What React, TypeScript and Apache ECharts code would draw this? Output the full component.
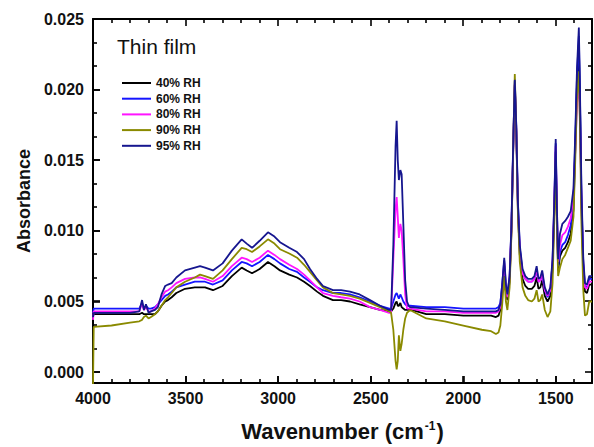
import React, { useEffect, useRef } from "react";
import * as echarts from "echarts";

// Wavenumbers (cm-1), shared by every series
const WN = [
  4000, 3996, 3900, 3800, 3750, 3735, 3725, 3714, 3700, 3687, 3665, 3650, 3630, 3610, 3595, 3575, 3550, 3503, 3450,
  3422, 3395, 3352, 3300, 3250, 3197, 3170, 3141, 3100, 3055, 3020, 2990, 2940, 2898, 2860, 2828, 2790, 2758, 2704, 2660, 2612,
  2560, 2504, 2450, 2400,
  2390, 2378, 2366, 2360, 2354, 2348, 2340, 2333, 2324, 2314, 2304, 2295, 2288,
  2200, 2100, 2000, 1900, 1850, 1824, 1810,
  1800, 1790, 1779, 1770, 1762, 1750, 1740, 1730, 1722, 1714, 1705, 1695, 1680, 1665, 1650, 1630, 1616, 1604, 1594, 1584, 1574,
  1560, 1545, 1530, 1518, 1508, 1501, 1495, 1488, 1478, 1465, 1450, 1435, 1420, 1405, 1395, 1386, 1376, 1370, 1362, 1352, 1343,
  1332, 1320, 1305,
];

const RH40 = [
  0.0040, 0.0041, 0.0041, 0.0041, 0.0041, 0.0042, 0.0041, 0.0041, 0.0041, 0.0041, 0.0041, 0.0043, 0.0047, 0.0050, 0.0051, 0.0053, 0.0056, 0.0059, 0.0060,
  0.0060, 0.0060, 0.0058, 0.0061, 0.0068, 0.0074, 0.0072, 0.0070, 0.0073, 0.0078, 0.0075, 0.0072, 0.0069, 0.0067, 0.0064, 0.0061, 0.0057, 0.0054, 0.0051, 0.0051, 0.0050,
  0.0048, 0.0046, 0.0044, 0.0043,
  0.0043, 0.0045, 0.0049, 0.0050, 0.0047, 0.0047, 0.0049, 0.0046, 0.0045, 0.0044, 0.0044, 0.0044, 0.00445,
  0.0041, 0.0041, 0.0040, 0.0040, 0.0040, 0.0039, 0.0040,
  0.0044, 0.0057, 0.0075, 0.0057, 0.0051, 0.0064, 0.0100, 0.0160, 0.0203, 0.0170, 0.0114, 0.0083, 0.0066, 0.0061, 0.0059, 0.0059, 0.0061, 0.0067, 0.0059, 0.0060, 0.0065,
  0.0054, 0.0050, 0.0054, 0.0073, 0.0118, 0.0156, 0.0112, 0.0072, 0.0082, 0.0086, 0.0088, 0.0092, 0.0098, 0.0115, 0.0160, 0.0205, 0.0232, 0.0190, 0.0118, 0.0072, 0.0057,
  0.0056, 0.0062, 0.0062,
];

const RH60 = [
  0.0042, 0.0045, 0.0045, 0.0045, 0.0045, 0.0049, 0.0045, 0.0047, 0.0045, 0.0045, 0.0046, 0.0048, 0.0051, 0.0054, 0.0055, 0.0057, 0.0060, 0.0062, 0.0064,
  0.0064, 0.0064, 0.0062, 0.0065, 0.0072, 0.0078, 0.0077, 0.0075, 0.0078, 0.0083, 0.0080, 0.0077, 0.0073, 0.0071, 0.0067, 0.0064, 0.0060, 0.0058, 0.0056, 0.0056, 0.0055,
  0.0053, 0.0050, 0.0047, 0.0045,
  0.0045, 0.0050, 0.0055, 0.0056, 0.0054, 0.0052, 0.0055, 0.0053, 0.0050, 0.0048, 0.0047, 0.0047, 0.0047,
  0.0046, 0.0046, 0.0045, 0.0045, 0.0045, 0.0045, 0.0046,
  0.0049, 0.0062, 0.0079, 0.0061, 0.0055, 0.0067, 0.0104, 0.0164, 0.0206, 0.0174, 0.0119, 0.0088, 0.0071, 0.0066, 0.0064, 0.0064, 0.0066, 0.0072, 0.0064, 0.0065, 0.0069,
  0.0058, 0.0053, 0.0058, 0.0078, 0.0123, 0.0162, 0.0118, 0.0075, 0.0085, 0.0090, 0.0092, 0.0097, 0.0104, 0.0122, 0.0165, 0.0210, 0.0238, 0.0195, 0.0125, 0.0077, 0.0061,
  0.0060, 0.0066, 0.0066,
];

const RH80 = [
  0.0037, 0.0043, 0.0043, 0.0043, 0.0043, 0.0049, 0.0044, 0.0046, 0.0043, 0.0043, 0.0045, 0.0048, 0.0053, 0.0057, 0.0058, 0.0060, 0.0063, 0.0066, 0.0067,
  0.0067, 0.0066, 0.0064, 0.0068, 0.0075, 0.0081, 0.0080, 0.0078, 0.0081, 0.0086, 0.0083, 0.0080, 0.0076, 0.0073, 0.0069, 0.0065, 0.0060, 0.0056, 0.0054, 0.0053, 0.0052,
  0.0050, 0.0046, 0.0044, 0.0042,
  0.0042, 0.0080, 0.0115, 0.0124, 0.0110, 0.0095, 0.0105, 0.0100, 0.0080, 0.0055, 0.0045, 0.0045, 0.0045,
  0.0043, 0.0043, 0.0042, 0.0042, 0.0042, 0.0042, 0.0043,
  0.0046, 0.0059, 0.0077, 0.0059, 0.0053, 0.0066, 0.0102, 0.0162, 0.0204, 0.0172, 0.0116, 0.0086, 0.0070, 0.0066, 0.0064, 0.0064, 0.0066, 0.0073, 0.0064, 0.0065, 0.0070,
  0.0058, 0.0054, 0.0058, 0.0077, 0.0121, 0.0160, 0.0116, 0.0078, 0.0090, 0.0097, 0.0099, 0.0103, 0.0109, 0.0125, 0.0158, 0.0190, 0.0205, 0.0180, 0.0120, 0.0076, 0.0060,
  0.0059, 0.0064, 0.0064,
];

const RH90 = [
  -0.001, 0.0032, 0.0033, 0.0035, 0.0036, 0.0037, 0.0039, 0.0040, 0.0038, 0.0039, 0.0041, 0.0043, 0.0047, 0.0051, 0.0053, 0.0056, 0.0060, 0.0064, 0.0067,
  0.0069, 0.0068, 0.0066, 0.0072, 0.0080, 0.0088, 0.0087, 0.0085, 0.0089, 0.0094, 0.0091, 0.0087, 0.0084, 0.0081, 0.0076, 0.0071, 0.0065, 0.0060, 0.0056, 0.0055, 0.0054,
  0.0052, 0.0049, 0.0046, 0.0043,
  0.0042, 0.0030, 0.0008, 0.0002, 0.0008, 0.0026, 0.0015, 0.0020, 0.0030, 0.0038, 0.0042, 0.0043, 0.0044,
  0.0038, 0.0036, 0.0033, 0.0030, 0.0029, 0.0027, 0.0028,
  0.0033, 0.0048, 0.0068, 0.0050, 0.0044, 0.0060, 0.0098, 0.0163, 0.0211, 0.0172, 0.0112, 0.0078, 0.0060, 0.0054, 0.0051, 0.0050, 0.0052, 0.0058, 0.0050, 0.0051, 0.0055,
  0.0044, 0.0039, 0.0043, 0.0063, 0.0112, 0.0150, 0.0105, 0.0068, 0.0074, 0.0080, 0.0083, 0.0088, 0.0093, 0.0110, 0.0152, 0.0195, 0.0213, 0.0175, 0.0105, 0.0058, 0.0040,
  0.0041, 0.0050, 0.0050,
];

const RH95 = [
  0.0039, 0.0042, 0.0042, 0.0042, 0.0043, 0.0051, 0.0044, 0.0048, 0.0042, 0.0043, 0.0044, 0.0046, 0.0055, 0.0061, 0.0062, 0.0063, 0.0067, 0.0072, 0.0074,
  0.0075, 0.0074, 0.0072, 0.0077, 0.0086, 0.0094, 0.0091, 0.0088, 0.0093, 0.0099, 0.0096, 0.0092, 0.0088, 0.0085, 0.0080, 0.0073, 0.0066, 0.0061, 0.0058, 0.0058, 0.0057,
  0.0055, 0.0051, 0.0047, 0.0044,
  0.0044, 0.0090, 0.0160, 0.0178, 0.0150, 0.0136, 0.0143, 0.0140, 0.0105, 0.0065, 0.0050, 0.0047, 0.0046,
  0.0045, 0.0044, 0.0043, 0.0043, 0.0043, 0.0043, 0.0044,
  0.0048, 0.0062, 0.0081, 0.0062, 0.0055, 0.0068, 0.0105, 0.0165, 0.0207, 0.0175, 0.0120, 0.0090, 0.0073, 0.0068, 0.0066, 0.0066, 0.0068, 0.0075, 0.0066, 0.0067, 0.0072,
  0.0060, 0.0055, 0.0060, 0.0080, 0.0125, 0.0165, 0.0120, 0.0080, 0.0098, 0.0105, 0.0107, 0.0110, 0.0114, 0.0130, 0.0170, 0.0215, 0.0244, 0.0200, 0.0130, 0.0080, 0.0063,
  0.0062, 0.0068, 0.0068,
];

const SERIES_NAMES = ["40% RH", "60% RH", "80% RH", "90% RH", "95% RH"];
const SERIES_VALUES = [RH40, RH60, RH80, RH90, RH95];
const SERIES_COLORS = ["#000000", "#1515ff", "#ff14ff", "#8a8a00", "#16168f"];

const X_MAJOR = [4000, 3500, 3000, 2500, 2000, 1500];
const X_MINOR = [3900, 3800, 3700, 3600, 3400, 3300, 3200, 3100, 2900, 2800, 2700, 2600, 2400, 2300, 2200, 2100, 1900, 1800, 1700, 1600, 1400];
const Y_MAJOR = [0, 0.005, 0.01, 0.015, 0.02, 0.025];
const Y_MINOR = [0.001667, 0.003333, 0.006667, 0.008333, 0.011667, 0.013333, 0.016667, 0.018333, 0.021667, 0.023333];

const X_MIN = 1305;
const X_MAX = 4000;
const Y_MIN = -0.00077;
const Y_MAX = 0.025;

const FONT = '"Liberation Sans", Arial, sans-serif';

export default function App() {
  const ref = useRef<HTMLDivElement>(null);

  useEffect(() => {
    if (!ref.current) return;
    const chart = echarts.init(ref.current, undefined, { renderer: "svg" });
    const frameLine = { show: true, onZero: false, lineStyle: { color: "#000", width: 2 } };

    chart.setOption({
      animation: false,
      backgroundColor: "#fff",
      grid: { left: 93, right: 2, top: 19, bottom: 62, containLabel: false },
      xAxis: [
        {
          type: "value",
          position: "bottom",
          inverse: true,
          min: X_MIN,
          max: X_MAX,
          axisLine: frameLine,
          axisTick: { show: true, inside: true, length: 7, customValues: X_MAJOR, lineStyle: { color: "#000", width: 1.6 } },
          axisLabel: {
            show: true,
            customValues: X_MAJOR,
            margin: 7,
            color: "#111",
            fontFamily: FONT,
            fontWeight: "bold",
            fontSize: 16,
            formatter: (v: number) => String(Math.round(v)),
          },
          splitLine: { show: false },
          name: "Wavenumber (cm{sup|-1})",
          nameLocation: "middle",
          nameGap: 37,
          nameTextStyle: {
            color: "#111",
            fontFamily: FONT,
            fontWeight: "bold",
            fontSize: 22,
            rich: {
              sup: { fontSize: 12, fontWeight: "bold", fontFamily: FONT, color: "#111", verticalAlign: "top", padding: [0, 1, 10, 1] },
            },
          },
        },
        {
          type: "value",
          position: "top",
          inverse: true,
          min: X_MIN,
          max: X_MAX,
          axisLine: frameLine,
          axisTick: { show: false },
          axisLabel: { show: false },
          splitLine: { show: false },
        },
      ],
      yAxis: [
        {
          type: "value",
          position: "left",
          min: Y_MIN,
          max: Y_MAX,
          axisLine: frameLine,
          axisTick: { show: true, inside: true, length: 7, customValues: Y_MAJOR, lineStyle: { color: "#000", width: 1.6 } },
          axisLabel: {
            show: true,
            customValues: Y_MAJOR,
            margin: 9,
            color: "#111",
            fontFamily: FONT,
            fontWeight: "bold",
            fontSize: 16,
            formatter: (v: number) => v.toFixed(3),
          },
          splitLine: { show: false },
          name: "Absorbance",
          nameLocation: "middle",
          nameGap: 59,
          nameTextStyle: { color: "#111", fontFamily: FONT, fontWeight: "bold", fontSize: 18 },
        },
        {
          type: "value",
          position: "right",
          min: Y_MIN,
          max: Y_MAX,
          axisLine: frameLine,
          axisTick: { show: false },
          axisLabel: { show: false },
          splitLine: { show: false },
        },
      ],
      legend: {
        show: true,
        orient: "vertical",
        left: 122,
        top: 75.5,
        itemWidth: 29,
        itemHeight: 2,
        itemGap: 0.7,
        icon: "rect",
        padding: 0,
        data: SERIES_NAMES,
        textStyle: { color: "#111", fontFamily: FONT, fontWeight: "bold", fontSize: 12, lineHeight: 15 },
      },
      series: SERIES_NAMES.map((name, i) => ({
        name,
        type: "line",
        xAxisIndex: 0,
        yAxisIndex: 0,
        data: WN.map((w, j) => [w, SERIES_VALUES[i][j]]),
        showSymbol: false,
        symbol: "none",
        color: SERIES_COLORS[i],
        lineStyle: { color: SERIES_COLORS[i], width: 1.8 },
        itemStyle: { color: SERIES_COLORS[i] },
        clip: true,
      })),
    });

    // Tick marks placed through the axes' own scales
    const gx = (v: number) => chart.convertToPixel({ xAxisIndex: 0 }, v) as number;
    const gy = (v: number) => chart.convertToPixel({ yAxisIndex: 0 }, v) as number;
    const top = gy(Y_MAX);
    const bottom = gy(Y_MIN);
    const left = gx(X_MAX);
    const right = gx(X_MIN);
    const els: any[] = [
      { type: "text", left: 117, top: 36, style: { text: "Thin film", font: `21px ${FONT}`, fill: "#111" } },
    ];
    const addX = (vals: number[], len: number) => {
      vals.forEach((v) => {
        const x = Math.round(gx(v));
        els.push({ type: "line", shape: { x1: x, y1: bottom, x2: x, y2: bottom - len }, style: { stroke: "#000", lineWidth: 1.6 } });
        els.push({ type: "line", shape: { x1: x, y1: top, x2: x, y2: top + len }, style: { stroke: "#000", lineWidth: 1.6 } });
      });
    };
    const addY = (vals: number[], len: number) => {
      vals.forEach((v) => {
        const y = Math.round(gy(v));
        els.push({ type: "line", shape: { x1: left, y1: y, x2: left + len, y2: y }, style: { stroke: "#000", lineWidth: 1.6 } });
        els.push({ type: "line", shape: { x1: right, y1: y, x2: right - len, y2: y }, style: { stroke: "#000", lineWidth: 1.6 } });
      });
    };
    addX(X_MAJOR, 7);
    addX(X_MINOR, 4);
    addY(Y_MAJOR, 7);
    addY(Y_MINOR, 4);
    chart.setOption({ graphic: els });

    return () => chart.dispose();
  }, []);

  return (
    <div
      ref={ref}
      style={{ position: "absolute", left: 0, top: 0, width: 594, height: 447, background: "#fff" }}
    />
  );
}
